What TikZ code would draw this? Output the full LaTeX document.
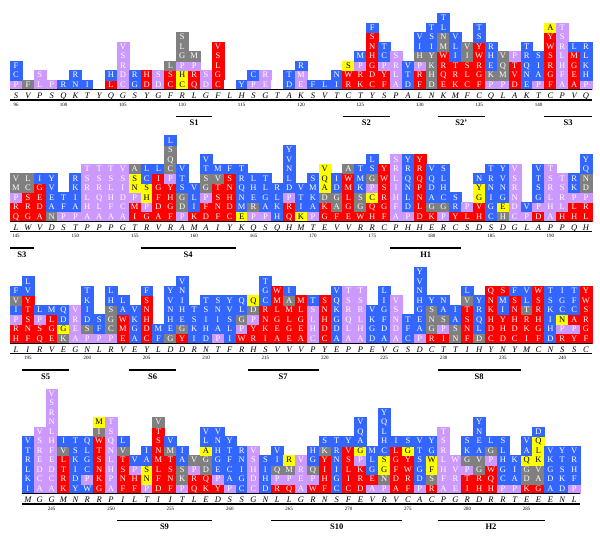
\documentclass[tikz,border=0pt]{standalone}
\usepackage{fontspec}
\setmainfont{Liberation Serif}
\definecolor{cb}{HTML}{3366FF}
\definecolor{cp}{HTML}{CC99FF}
\definecolor{cr}{HTML}{FF0000}
\definecolor{cg}{HTML}{808080}
\definecolor{cy}{HTML}{FFFF00}
\definecolor{cn}{HTML}{FFFFFF}
\colorlet{tb}{white}\colorlet{tp}{white}\colorlet{tr}{white}
\colorlet{tg}{white}\colorlet{ty}{black}\colorlet{tn}{white}
\tikzset{
  lbox/.style={minimum width=11.875pt, minimum height=9.5pt, inner sep=0pt, outer sep=0pt,
    line width=0.3pt, font=\fontsize{8.5}{9}\selectfont, text height=5.8pt, text depth=0pt},
  seqtxt/.style={font=\fontsize{8.5}{9}\selectfont\itshape, inner sep=0pt, text height=5.8pt, text depth=0pt},
  numtxt/.style={font=\fontsize{5}{5}\selectfont, inner sep=0pt},
  lbltxt/.style={font=\fontsize{8.5}{9}\selectfont\bfseries, inner sep=0pt},
  thinrule/.style={line width=0.6pt},
  thickrule/.style={line width=1.4pt},
  uline/.style={line width=1.1pt},
}
% #1 id, #2 x of first column centre, #3 baseline, #4 column list
\newcommand\logorow[4]{%
  \foreach \colspec [count=\ci from 0] in {#4}{%
    \foreach \ltr/\clr [count=\bi from 0] in \colspec {%
      \node[lbox, fill=c\clr, draw=c\clr, text=t\clr] (b#1-\ci-\bi) at ({#2+11.875*\ci},{#3+9.5*\bi+4.75}) {\ltr};
    }%
  }%
}
\newcommand\seqrow[4]{%
  \foreach \s [count=\si from 0] in {#4}{%
    \node[seqtxt] (s#1-\si) at ({#2+11.875*\si},{#3-6.7}) {\s};
  }%
}
\newcommand\numrow[4]{%
  \foreach \nn/\nc in {#4}{%
    \node[numtxt] (n#1-\nn) at ({#2+11.875*\nc},{#3-15.3}) {\nn};
  }%
}
% #1 id, #2 x left, #3 x right, #4 baseline
\newcommand\rules[4]{%
  \coordinate (ta#1) at (#2,#4-0.3); \coordinate (tb#1) at (#3,#4-0.3);
  \coordinate (ua#1) at (#2,#4-10.8); \coordinate (ub#1) at (#3,#4-10.8);
  \draw[thinrule] (ta#1) -- (tb#1);
  \draw[thickrule] (ua#1) -- (ub#1);
}
% #1 name, #2 x left, #3 x right, #4 baseline, #5 label
\newcommand\structline[5]{%
  \coordinate (la#1) at (#2,#4-27); \coordinate (lb#1) at (#3,#4-27);
  \draw[uline] (la#1) -- (lb#1);
  \node[lbltxt] (lab#1) at ({(#2+#3)/2},{#4-33.5}) {#5};
}
\begin{document}
\begin{tikzpicture}[x=1pt,y=1pt]
\useasboundingbox (0,0) rectangle (600,536);
\fill[white] (0,0) rectangle (600,536);

% ---------------- Row 1 (96-144) ----------------
\logorow{1}{16}{446.7}{
{P/p,C/b,F/b},{F/g},{L/p,S/p},{P/p},{R/b},{N/b,R/b},{I/b},{n/n},{L/r,H/b},
{C/p,D/p,R/p,S/p,V/p},{G/b,R/b},{D/r,H/r},{D/p,S/p},{C/r,S/r,L/g},
{C/y,H/y,P/p,G/g,L/g,S/g},{Q/r,R/r,P/p,M/g},{D/p,S/p},{C/r,G/r,L/r,S/r,V/r},
{n/n},{Y/b},{P/p,C/b},{E/p,R/p},{n/n},{D/b,T/b},{E/p,M/p,R/b},{F/b},{L/b},{I/b,N/b},
{R/r,W/r,S/y},{K/r,R/r,P/p,M/b},{C/r,D/r,G/r,H/r,N/r,S/r,F/b},{F/r,Y/r,P/p,C/b,T/b},
{A/p,L/p,R/p,S/p},{D/b,T/b,V/b},{F/r,R/r,P/p,H/g,I/b,V/b},{D/g,H/g,K/g,Y/g,I/b,S/b,T/b},
{E/r,Q/r,R/r,W/r,M/g,N/g,L/b,T/b},{K/r,R/r,T/r,I/b,L/b,V/b},{C/r,L/r,S/r,I/g,V/g},
{F/r,G/r,R/r,W/r,Y/r,S/b,T/b},{P/p,K/g,E/b,H/b,R/b},{P/p,M/g,Q/g,V/g},{D/r,V/r,T/r,P/p},
{E/b,N/b,Q/b,R/b,T/b},{P/p,A/b,I/b,S/b},{F/r,G/r,R/r,S/r,W/r,Y/r,A/y},
{A/p,F/p,H/p,L/p,R/p,S/p,T/p},{A/r,E/r,G/r,M/r,L/b},{P/p,H/b,K/b,L/b,R/b}}
\rules{1}{10}{592}{446.7}
\seqrow{1}{16}{446.7}{S,V,P,S,Q,K,T,Y,Q,G,S,Y,G,F,R,L,G,F,L,H,S,G,T,A,K,S,V,T,C,T,Y,S,P,A,L,N,K,M,F,C,Q,L,A,K,T,C,P,V,Q}
\numrow{1}{16}{446.7}{96/0,100/4,105/9,110/14,115/19,120/24,125/29,130/34,135/39,140/44}
\structline{s1}{176.3}{211.9}{446.7}{S1}
\structline{s2}{342.6}{390.1}{446.7}{S2}
\structline{s2p}{437.6}{485.1}{446.7}{S2'}
\structline{s3a}{544.4}{592}{446.7}{S3}

% ---------------- Row 2 (145-193) ----------------
\logorow{2}{16}{315}{
{Q/r,R/r,P/p,M/g,V/g},{G/r,R/r,S/r,C/g,L/g},{A/r,D/r,E/r,G/r,I/b},{N/g,A/b,E/b,V/b,Y/b},
{P/p,F/b,T/b},{P/p,A/b,I/b,K/b,R/b},{A/p,H/p,L/p,R/p,S/p,T/p},{A/p,L/p,Q/p,R/p,S/p,T/p},
{A/p,F/p,H/p,L/p,S/p,T/p},{A/p,C/p,D/p,I/p,S/p,V/p},{I/r,M/r,P/p,N/y,S/y,A/g},
{G/r,P/p,H/y,S/y,C/b,L/b},{A/r,D/r,F/r,G/r,I/r,L/b},{F/r,G/r,H/r,Y/r,P/p,C/g,Q/g,S/g,L/b},
{P/p,D/g,G/g,S/b,T/b,V/b},{K/r,I/b,L/b,V/b},{D/r,F/r,P/p,G/g,S/g,T/b,V/b},
{F/r,N/r,S/r,T/r,V/g,M/b},{C/r,D/r,H/r,N/r,S/r,F/b},{E/y,M/b,N/b,Q/b,R/b,T/b},
{P/p,R/g,E/b,H/b,L/b},{P/p,A/b,G/b,L/b,T/b},{H/b,K/b,L/b,R/b},
{Q/r,R/r,P/p,D/b,L/b,N/b,V/b,Y/b},{K/y,I/b,T/b,V/b},{P/p,A/b,K/b,M/b,S/b},
{G/r,K/r,D/g,A/y,Q/y,V/y},{F/r,A/g,G/g,D/b,I/b},{E/r,G/r,L/r,M/r,W/r,A/g},
{W/r,G/g,S/g,K/b,M/b,T/b},{H/r,Q/r,C/y,P/p,G/g,S/b,L/b},{F/r,G/r,R/r,S/r,W/r,Y/r},
{A/p,F/p,H/p,I/p,L/p,R/p,S/p},{P/p,D/b,L/b,N/b,Q/b,R/b,Y/b},{D/r,L/r,N/r,P/r,Q/r,R/r,Y/r},
{K/r,G/g,A/b,D/b,Q/b,V/b},{P/p,G/g,C/b,H/b,L/b,S/b},{Y/r,R/b,S/b},{L/r,P/p},
{H/r,V/r,G/y,Y/y,N/b},{C/b,G/b,I/b,N/b,R/b,T/b},{H/g,E/y,G/b,N/b,V/b,Y/b},
{C/p,D/p,N/p,R/p,S/p,V/p},{P/p,V/b},{D/r,P/p,G/b,S/b,T/b,V/b},{A/p,H/p,L/p,R/p,S/p,T/p},
{H/r,L/p,R/p,S/p,T/p},{H/r,L/r,P/p,K/b,R/b},{L/r,R/r,P/p,D/g,N/g,Q/b,Y/b}}
\rules{2}{10}{592}{315}
\seqrow{2}{16}{315}{L,W,V,D,S,T,P,P,P,G,T,R,V,R,A,M,A,I,Y,K,Q,S,Q,H,M,T,E,V,V,R,R,C,P,H,H,E,R,C,S,D,S,D,G,L,A,P,P,Q,H}
\numrow{2}{16}{315}{145/0,150/5,155/10,160/15,165/20,170/25,175/30,180/35,185/40,190/45}
\structline{s3b}{10.06}{33.8}{315}{S3}
\structline{s4}{140.7}{235.7}{315}{S4}
\structline{h1}{390.1}{461.3}{315}{H1}

% ---------------- Row 3 (194-242) ----------------
\logorow{3}{16}{193}{
{H/r,R/r,P/p,I/b,V/g,F/b},{F/r,N/r,S/r,T/r,Y/r,V/b,L/b},{Q/r,S/r,P/p,L/b},{E/r,G/r,L/r,M/b},
{K/g,G/y,D/b,Q/b},{A/p,E/p,R/p,V/p},{P/p,S/g,D/b,I/b,K/b,T/b},{P/p,F/b,S/b},
{P/p,C/g,G/g,S/g,H/b,L/b},{E/r,M/r,W/r,A/b,L/b},{A/b,G/b,K/b,V/b},{C/r,D/r,H/r,N/r,S/r,F/b},
{F/b,M/b},{G/g,E/b,H/b,N/b,V/b,Y/b},{Y/r,G/g,E/b,H/b,I/b,N/b,V/b},{I/b,K/b,S/b,T/b},
{D/b,H/b,I/b,S/b,T/b},{P/p,A/b,I/b,N/b,S/b},{I/b,L/b,S/b,V/b,Y/b},{W/r,P/p,G/g,L/b,Q/b},
{R/r,Y/r,P/p,D/g,Q/y},{I/r,K/r,N/r,R/r,C/b,G/b,T/b},{A/r,E/r,G/r,L/r,M/r,W/r},
{E/r,G/r,L/r,M/r,A/g,I/b},{A/r,E/r,G/r,L/r,M/r},{C/p,H/p,L/p,S/p,T/b},{C/r,D/r,H/r,N/r,S/r},
{A/b,D/b,G/b,K/b,Q/b,V/b},{A/p,L/p,Q/p,R/p,S/p,T/p},{A/p,H/p,L/p,R/p,S/p,T/p},
{D/b,G/b,K/b,V/b},{A/b,D/b,F/b,G/b,I/b,L/b},{A/p,D/p,N/p,S/p,V/p},{C/b,F/b,T/b},
{P/p,A/b,E/b,G/b,H/b,N/b,V/b,Y/b},{R/r,G/g,N/g,S/g,Y/b},{I/r,P/p,S/g,A/b,N/b},
{N/g,S/g,A/b,I/b},{F/r,N/r,S/r,T/r,V/g,L/b},{D/g,L/b,Q/b,R/b,Y/b},{C/r,D/r,H/r,K/r,N/r,Q/r},
{D/r,H/r,Y/r,I/b,M/b,S/r},{C/r,D/r,H/r,N/r,S/r,F/b},{I/r,K/r,R/r,T/g,L/b,V/b},
{F/r,G/r,H/r,R/r,S/r,W/r},{D/b,H/b,I/b,K/b,S/b,T/b},{R/r,P/p,N/y,C/b,G/b,I/b},
{Y/r,P/p,A/r,C/b,F/b,T/b},{F/r,G/r,R/r,S/r,W/r,Y/r}}
\rules{3}{10}{592}{193}
\seqrow{3}{16}{193}{L,I,R,V,E,G,N,L,R,V,E,Y,L,D,D,R,N,T,F,R,H,S,V,V,V,P,Y,E,P,P,E,V,G,S,D,C,T,T,I,H,Y,N,Y,M,C,N,S,S,C}
\numrow{3}{16}{193}{195/1,200/6,205/11,210/16,215/21,220/26,225/31,230/36,235/41,240/46}
\structline{s5}{21.9}{69.4}{193}{S5}
\structline{s6}{128.8}{176.3}{193}{S6}
\structline{s7}{247.6}{318.8}{193}{S7}
\structline{s8}{437.6}{520.7}{193}{S8}

% ---------------- Row 4 (243-289) ----------------
\logorow{4}{27.9}{42.7}{
{I/b,K/b,L/b,R/b,T/b,V/b},{A/p,C/p,D/p,E/p,R/p,S/p,V/p},
{A/p,C/p,D/p,E/p,F/p,H/p,L/p,N/p,R/p,S/p,V/p},{K/r,R/r,T/r,L/r,V/g,I/b},
{Y/b,D/b,I/b,K/b,S/b,T/b},{W/b,P/p,C/b,G/b,L/b,Q/b},{G/r,K/r,N/r,S/r,T/r,W/r,I/g,M/y},
{A/p,P/p,H/p,L/p,N/p,Q/p,S/p,T/p},{F/r,N/r,S/r,T/r,V/g,L/b},{F/r,H/r,P/p,V/b},
{P/p,N/y,S/y,A/b,I/b},{D/r,F/r,L/r,M/r,N/r,S/r,T/r,V/g},{F/r,N/r,S/r,T/r,M/g,V/b},
{P/p,K/g,S/g,A/b,I/b},{Q/r,R/r,P/p,V/g},{K/r,Q/r,D/g,G/g,A/y,L/b,V/b},
{Y/r,P/p,E/b,G/b,H/b,N/b,V/b},{P/p,A/b,C/b,F/b,T/b,Y/b},{C/b,G/b,I/b,N/b,R/b},
{C/p,D/p,H/p,S/p,V/p},{D/b,H/b,I/b,S/b},{R/r,P/p,Q/g,I/b,V/b},{Q/r,P/p,M/g,R/y},
{A/p,E/p,R/p,V/p},{W/r,P/p,Q/g,G/b,H/b},{F/r,H/r,I/r,Y/r,K/g,S/b},{C/b,G/b,I/b,N/b,R/b,T/b},
{C/r,I/r,L/r,S/r,V/r,Y/b},{D/r,R/r,K/r,P/p,G/y,A/b,Q/b,V/b},{A/p,E/r,G/b,L/b,M/b},
{P/p,N/g,G/y,S/y,C/b,H/b,L/b,Q/b,Y/b},{A/r,D/r,F/r,G/r,L/r,I/b},{F/r,R/r,W/r,Y/r,G/y,S/b},
{P/p,D/b,G/b,S/b,T/b,V/b},{R/r,S/g,F/y,W/y,G/b,Y/b},{A/p,F/p,H/p,L/p,R/p,S/p,T/p},
{E/p,R/p,V/p,W/p},{I/r,T/r,P/p,G/g,K/b,S/b},{H/r,R/r,G/g,V/g,A/b,E/b,N/b,Y/b},
{H/r,Q/r,W/r,P/p,G/g,L/b},{P/p,C/b,G/b,H/b,L/b,S/b},{P/p,A/b,I/b,K/b},
{K/r,D/g,G/g,Q/y,A/b,V/b},{G/r,A/g,V/g,K/y,L/y,Q/y,D/b},{A/b,D/b,G/b,K/b,V/b},
{D/b,K/b,S/b,T/b,Y/b},{P/p,F/b,H/b,R/b,V/b}}
\rules{4}{22}{580}{42.7}
\seqrow{4}{27.9}{42.7}{M,G,G,M,N,R,R,P,I,L,T,I,I,T,L,E,D,S,S,G,N,L,L,G,R,N,S,F,E,V,R,V,C,A,C,P,G,R,D,R,R,T,E,E,E,N,L}
\numrow{4}{27.9}{42.7}{245/2,250/7,255/12,260/17,265/22,270/27,275/32,280/37,285/42}
\structline{s9}{117}{212}{42.7}{S9}
\structline{s10}{271.3}{402}{42.7}{S10}
\structline{h2}{437.6}{544.5}{42.7}{H2}
\end{tikzpicture}
\end{document}
